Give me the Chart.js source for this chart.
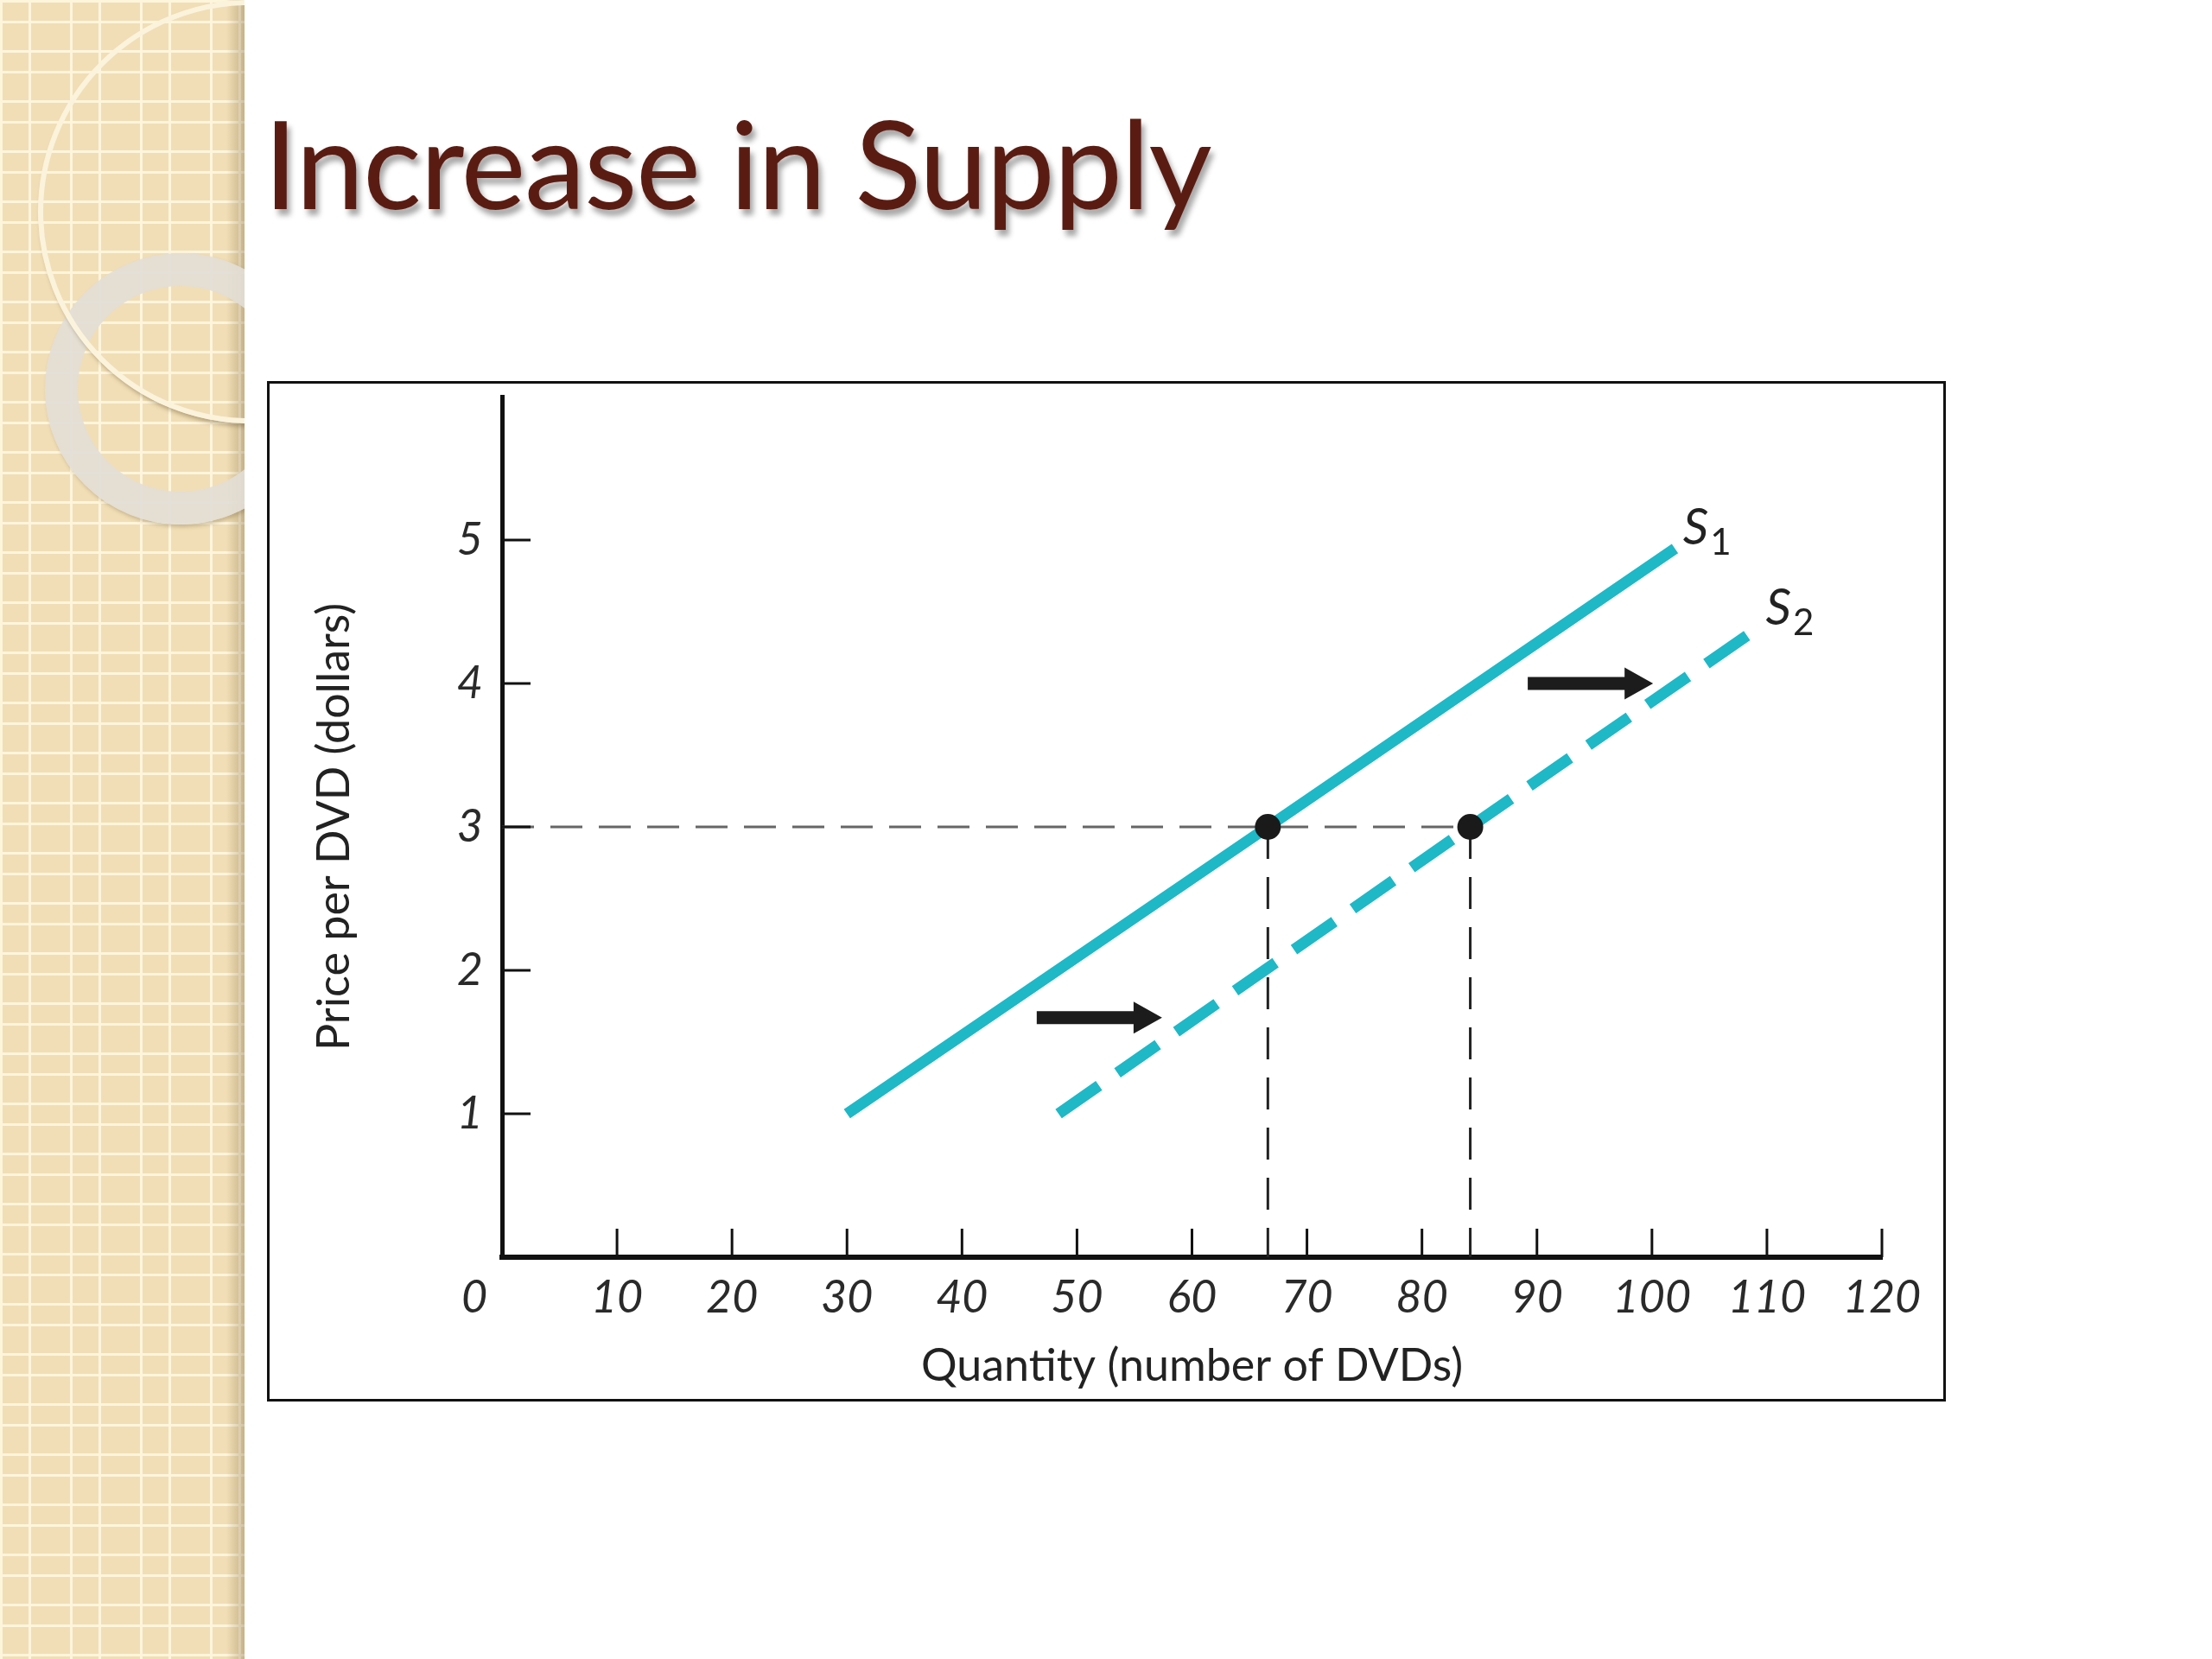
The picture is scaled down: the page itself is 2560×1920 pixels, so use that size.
<!DOCTYPE html>
<html>
<head>
<meta charset="utf-8">
<script src="https://cdn.jsdelivr.net/npm/chart.js"></script>
<style>
  html, body { margin: 0; padding: 0; background: #fff; }
  #page { position: relative; width: 2560px; height: 1920px; overflow: hidden; background: #fff; }
  #strip {
    position: absolute; left: 0; top: 0; width: 283px; height: 1920px; overflow: hidden;
    background-color: #f1deb6;
    background-image:
      linear-gradient(to right, rgba(0,0,0,0) 0, rgba(0,0,0,0) 262px, rgba(120,95,50,0.35) 283px),
      repeating-linear-gradient(to right, #fdf5dc 0, #fdf5dc 3px, transparent 3px, transparent 33px, #fdf5dc 33px, #fdf5dc 36px, transparent 36px, transparent 81px),
      repeating-linear-gradient(to bottom, #fdf5dc 0, #fdf5dc 3px, transparent 3px, transparent 24px, #fdf5dc 24px, #fdf5dc 27px, transparent 27px, transparent 58px);
  }
  .ring { position: absolute; border-radius: 50%; box-sizing: border-box; }
  #ringBig { left: 44px; top: 0; width: 490px; height: 490px; border: 6px solid #fbf3dc; box-shadow: 3px 4px 5px rgba(110,90,50,0.45); }
  #ringGray { left: 52px; top: 293px; width: 314px; height: 314px; border: 38px solid rgba(226,222,214,0.9); box-shadow: 2px 3px 4px rgba(110,90,50,0.3); }
  #title {
    position: absolute; left: 305px; top: 116px; margin: 0;
    font-family: Lato, "Open Sans", sans-serif; font-size: 142px; line-height: 142px; font-weight: 400;
    letter-spacing: -1.5px;
    color: #5a1c12; text-shadow: 4px 7px 6px rgba(0,0,0,0.35); white-space: nowrap;
  }
  #box { position: absolute; left: 309px; top: 441px; width: 1943px; height: 1181px; border: 3px solid #111; box-sizing: border-box; }
  #chart { position: absolute; left: 0; top: 0; }
</style>
</head>
<body>
<div id="page">
  <div id="strip">
    <div class="ring" id="ringGray"></div>
    <div class="ring" id="ringBig"></div>
  </div>
  <h1 id="title">Increase in Supply</h1>
  <div id="box"></div>
  <canvas id="chart" width="2560" height="1920"></canvas>
</div>
<script>
"use strict"

// Axis ticks
const qtyTicks = [10, 20, 30, 40, 50, 60, 70, 80, 90, 100, 110, 120];
const priceTicks = [1, 2, 3, 4, 5];

// Supply curves [quantity, price]
const supply1 = [[30, 1], [66.6, 3], [102, 4.94]];
const supply2 = [[48.4, 1], [84.2, 3], [109.1, 4.38]];

// Equilibrium points at price 3
const equilibrium = [[66.6, 3], [84.2, 3]];

// Shift arrows [fromQty, toQty, price]
const shiftArrows = [[89.2, 100.1, 4.0], [46.5, 57.4, 1.67]];

// Curve labels [letter, subscript, qty, price]
const curveLabels = [["S", "1", 102.7, 4.97], ["S", "2", 109.9, 4.41]];

const toXY = arr => arr.map(p => ({ x: p[0], y: p[1] }));
const tickFont = { family: "Lato, 'Open Sans', sans-serif", size: 52, style: "italic", weight: 400 };
const titleFont = { family: "Lato, 'Open Sans', sans-serif", size: 52, weight: 400 };
const cyan = "#1fb8c6";

const overlay = {
    id: "overlay",
    afterDatasetsDraw(chart) {
        const { ctx, scales: { x, y } } = chart;
        ctx.save();

        // tick marks pointing into the plot
        ctx.strokeStyle = "#111";
        ctx.lineWidth = 3;
        priceTicks.forEach(v => {
            const py = y.getPixelForValue(v);
            ctx.beginPath();
            ctx.moveTo(x.left, py);
            ctx.lineTo(x.left + 33, py);
            ctx.stroke();
        });
        qtyTicks.forEach(v => {
            const px = x.getPixelForValue(v);
            ctx.beginPath();
            ctx.moveTo(px, y.bottom);
            ctx.lineTo(px, y.bottom - 33);
            ctx.stroke();
        });

        // arrows
        ctx.fillStyle = "#1c1c1c";
        shiftArrows.forEach(a => {
            const x0 = x.getPixelForValue(a[0]);
            const x1 = x.getPixelForValue(a[1]);
            const py = y.getPixelForValue(a[2]);
            ctx.beginPath();
            ctx.moveTo(x0, py - 7.5);
            ctx.lineTo(x1 - 33, py - 7.5);
            ctx.lineTo(x1 - 33, py - 18.5);
            ctx.lineTo(x1, py);
            ctx.lineTo(x1 - 33, py + 18.5);
            ctx.lineTo(x1 - 33, py + 7.5);
            ctx.lineTo(x0, py + 7.5);
            ctx.closePath();
            ctx.fill();
        });

        // S1 / S2 labels
        ctx.fillStyle = "#222";
        ctx.textBaseline = "alphabetic";
        ctx.textAlign = "left";
        curveLabels.forEach(l => {
            const px = x.getPixelForValue(l[2]);
            const py = y.getPixelForValue(l[3]);
            ctx.font = "italic 400 58px Lato, 'Open Sans', sans-serif";
            ctx.fillText(l[0], px, py);
            const w = ctx.measureText(l[0]).width;
            ctx.font = "400 42px Lato, 'Open Sans', sans-serif";
            ctx.fillText(l[1], px + w + 2, py + 12);
        });

        // origin label
        ctx.font = "italic 400 52px Lato, 'Open Sans', sans-serif";
        ctx.fillStyle = "#2a2a2a";
        ctx.textAlign = "center";
        ctx.textBaseline = "middle";
        ctx.fillText("0", x.getPixelForValue(0) - 32, y.bottom + 47);

        ctx.restore();
    }
};

new Chart(document.getElementById("chart"), {
    type: "scatter",
    data: {
        datasets: [
            {
                label: "Equilibrium",
                data: toXY(equilibrium),
                showLine: false,
                pointRadius: 15,
                pointBackgroundColor: "#1a1a1a",
                pointBorderWidth: 0
            },
            {
                label: "S1",
                data: toXY(supply1),
                showLine: true,
                borderColor: cyan,
                borderWidth: 13,
                borderCapStyle: "butt",
                pointRadius: 0
            },
            {
                label: "S2",
                data: toXY(supply2),
                showLine: true,
                borderColor: cyan,
                borderWidth: 13,
                borderDash: [57, 26],
                borderCapStyle: "butt",
                pointRadius: 0
            },
            {
                label: "price guide",
                data: toXY([[0, equilibrium[1][1]], equilibrium[1]]),
                showLine: true,
                borderColor: "#666",
                borderWidth: 3,
                borderDash: [37, 19],
                pointRadius: 0
            },
            {
                label: "qty guide 1",
                data: toXY([equilibrium[0], [equilibrium[0][0], 0]]),
                showLine: true,
                borderColor: "#222",
                borderWidth: 3,
                borderDash: [37, 21],
                pointRadius: 0
            },
            {
                label: "qty guide 2",
                data: toXY([equilibrium[1], [equilibrium[1][0], 0]]),
                showLine: true,
                borderColor: "#222",
                borderWidth: 3,
                borderDash: [37, 21],
                pointRadius: 0
            }
        ]
    },
    options: {
        responsive: false,
        animation: false,
        devicePixelRatio: 1,
        layout: { padding: { left: 329, top: 459, right: 382, bottom: 298 } },
        plugins: { legend: { display: false }, tooltip: { enabled: false } },
        scales: {
            x: {
                type: "linear",
                min: 0,
                max: 120,
                afterBuildTicks: s => { s.ticks = qtyTicks.map(v => ({ value: v })); },
                afterFit: s => { s.height = 167; },
                grid: { display: true, drawOnChartArea: false, drawTicks: false },
                border: { display: true, color: "#111", width: 6 },
                ticks: { font: tickFont, color: "#2a2a2a", padding: 16, maxRotation: 0, autoSkip: false },
                title: { display: true, text: "Quantity (number of DVDs)", font: titleFont, color: "#222", padding: { top: 0, bottom: 10 } }
            },
            y: {
                type: "linear",
                min: 0,
                max: 6,
                afterBuildTicks: s => { s.ticks = priceTicks.map(v => ({ value: v })); },
                afterFit: s => { s.width = 252; },
                grid: { display: true, drawOnChartArea: false, drawTicks: false },
                border: { display: true, color: "#111", width: 5 },
                ticks: { font: tickFont, color: "#2a2a2a", padding: 22 },
                title: { display: true, text: "Price per DVD (dollars)", font: titleFont, color: "#222", padding: { top: 27, bottom: 0 } }
            }
        }
    },
    plugins: [overlay]
});
</script>
</body>
</html>
